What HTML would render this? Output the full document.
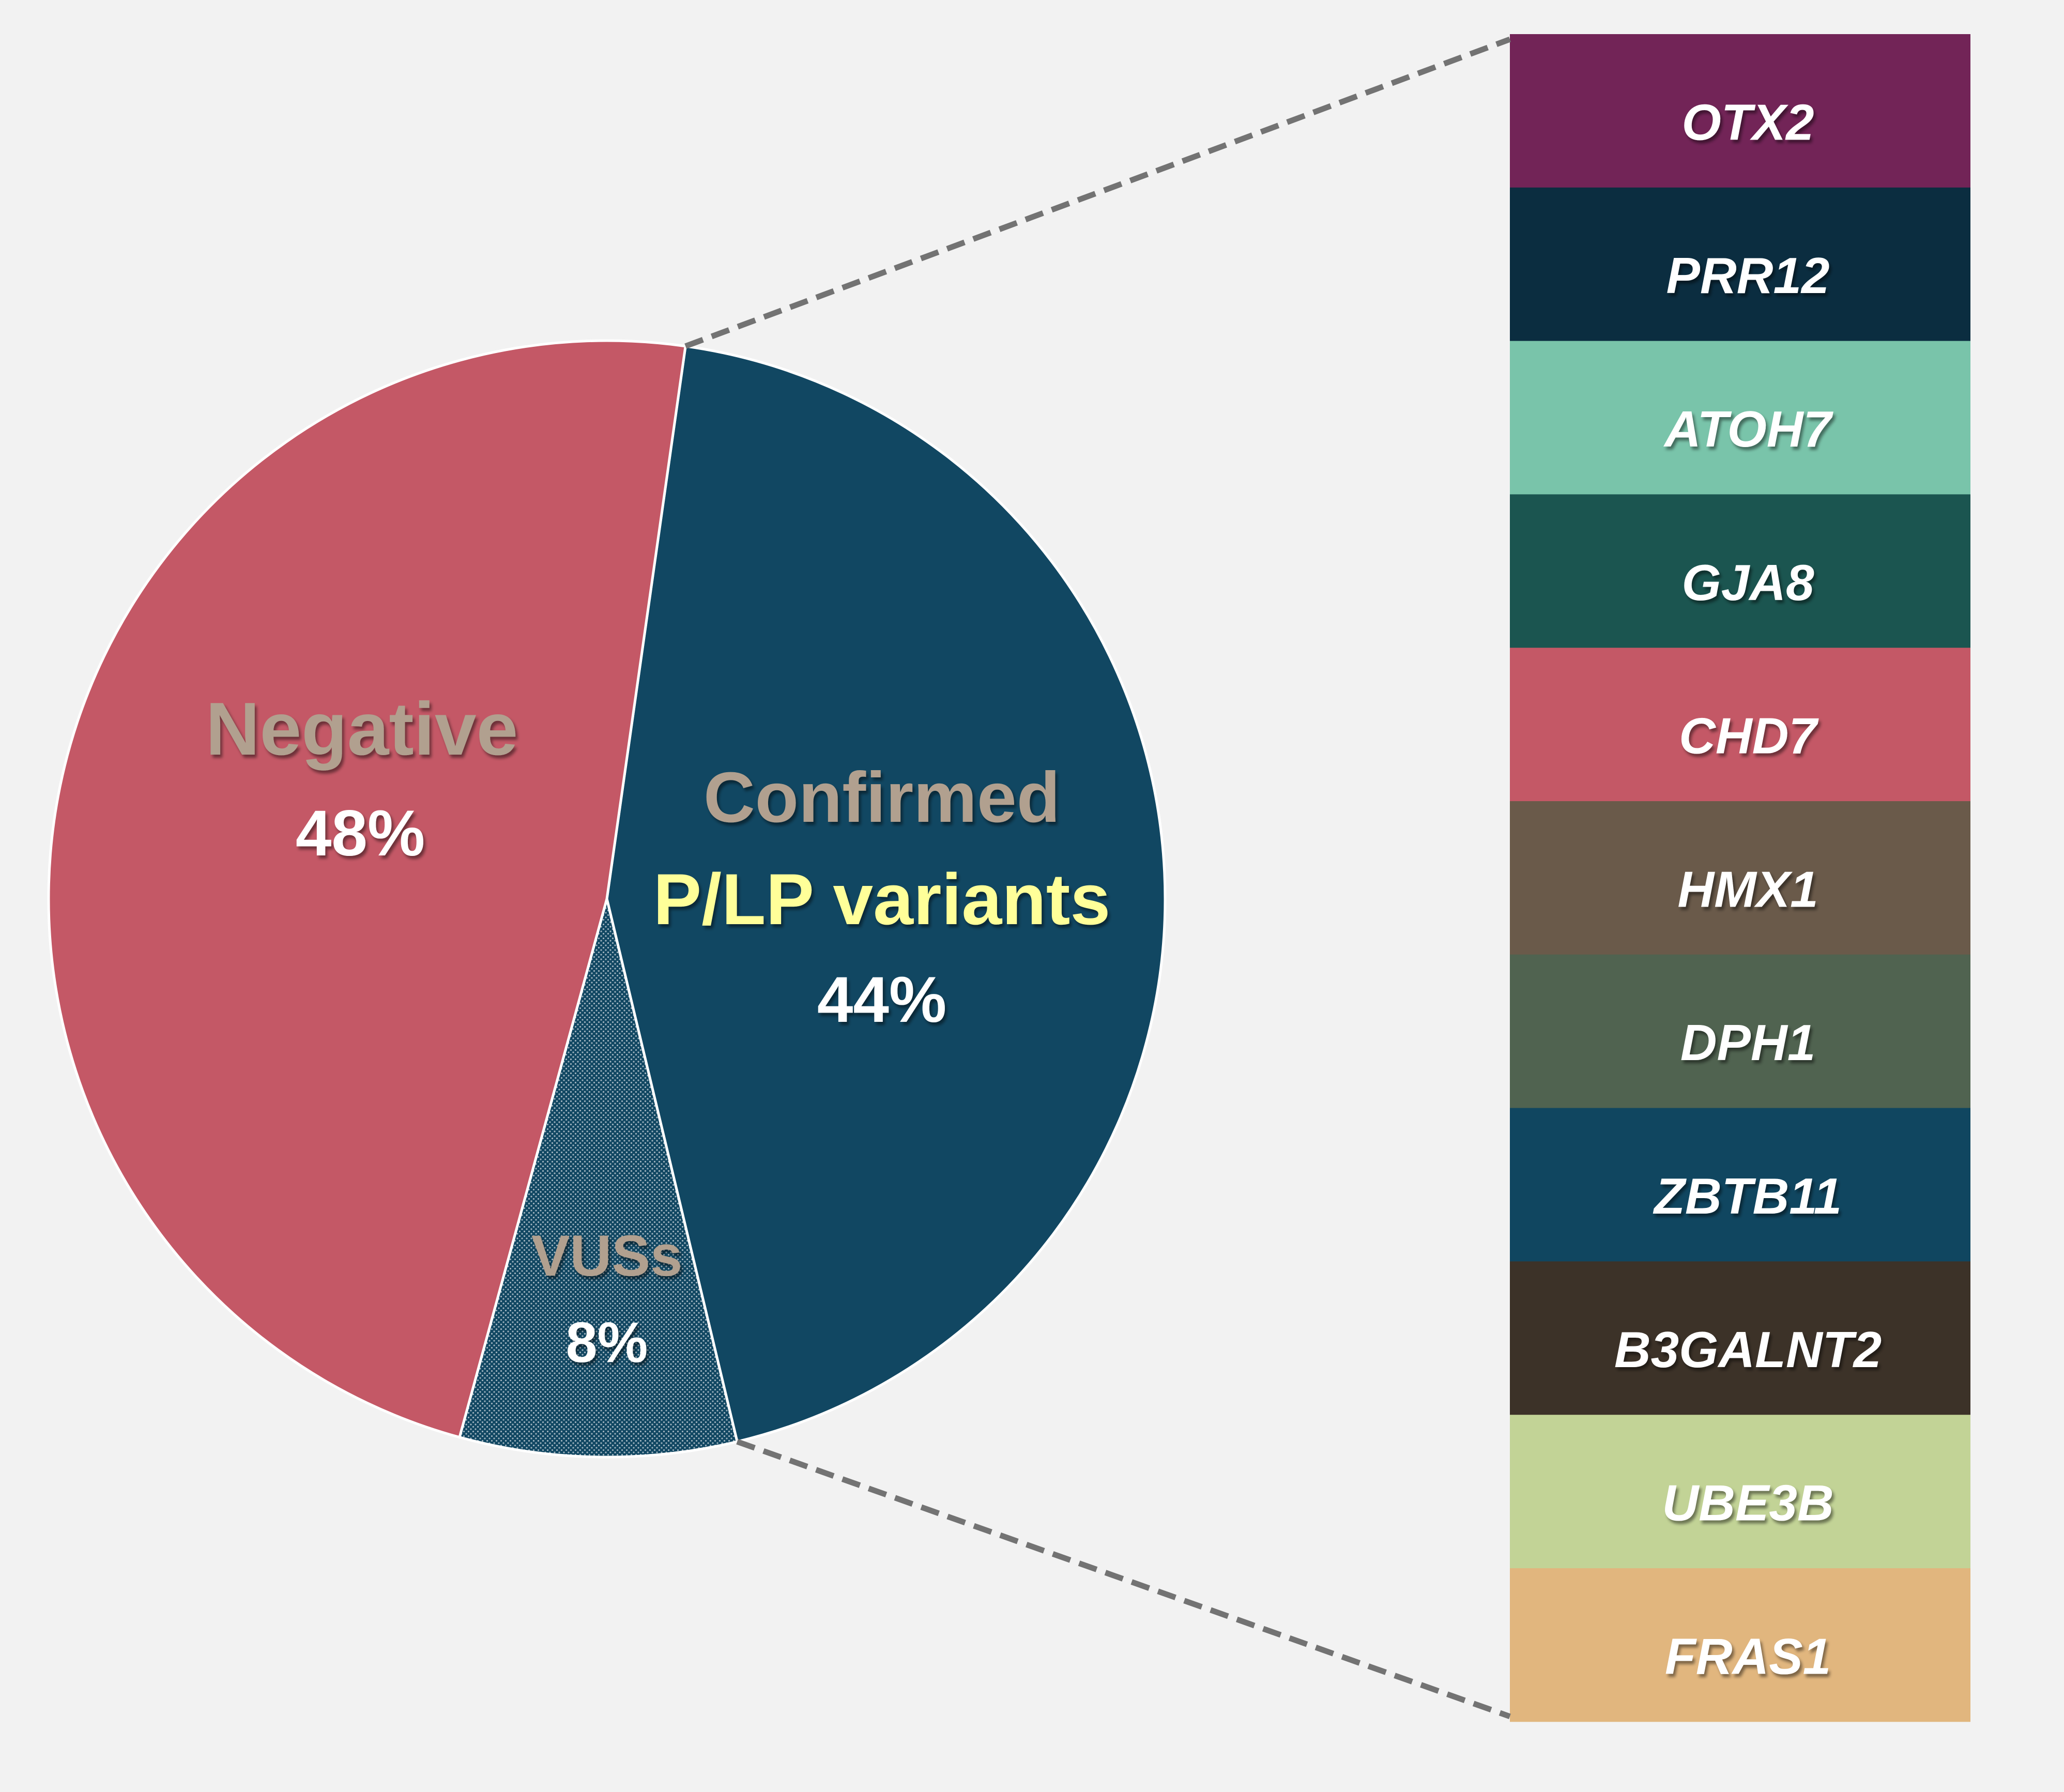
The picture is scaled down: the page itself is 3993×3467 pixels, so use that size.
<!DOCTYPE html>
<html><head><meta charset="utf-8">
<style>
html,body{margin:0;padding:0;background:#f2f2f2;}
svg{display:block;}
</style></head>
<body>
<svg id="chart" width="3993" height="3467" viewBox="0 0 3993 3467" xmlns="http://www.w3.org/2000/svg">
<defs>
<pattern id="dots" width="9" height="9" patternUnits="userSpaceOnUse">
<rect width="9" height="9" fill="#114762"/>
<circle cx="2" cy="2" r="1.6" fill="#9fb3bf"/>
<circle cx="6.5" cy="6.5" r="1.6" fill="#9fb3bf"/>
</pattern>
<filter id="sh" x="-10%" y="-10%" width="130%" height="140%">
<feDropShadow dx="4" dy="6" stdDeviation="3" flood-color="#000" flood-opacity="0.45"/>
</filter>
</defs>
<rect width="3993" height="3467" fill="#f2f2f2"/>
<g id="pie"></g>
<g id="bars"></g>
<g id="connectors"></g>
<g id="labels"></g>
</svg>
<script>
const sliceNames = ["Confirmed P/LP variants", "VUSs", "Negative"];
const sliceValues = [44, 8, 48];
const sliceColors = ["#114762", "url(#dots)", "#c45866"];
const genes = ["OTX2","PRR12","ATOH7","GJA8","CHD7","HMX1","DPH1","ZBTB11","B3GALNT2","UBE3B","FRAS1"];
const geneColors = ["#722457","#0b2d40","#79c4aa","#1b5550","#c45866","#6a5a4a","#506350","#104660","#3c3228","#c2d396","#e1b67e"];

const NS = "http://www.w3.org/2000/svg";
const cx = 1174, cy = 1739, r = 1080, startDeg = 8.1;
const total = sliceValues.reduce((a,b)=>a+b,0);
function pt(deg, rad){ const a = deg*Math.PI/180; return [cx + rad*Math.sin(a), cy - rad*Math.cos(a)]; }
function mk(tag, attrs, parent){ const e = document.createElementNS(NS, tag); for (const k in attrs) e.setAttribute(k, attrs[k]); parent.appendChild(e); return e; }

const pie = document.getElementById('pie');
let ang = startDeg;
const bounds = [];
sliceValues.forEach((v,i)=>{
  const a0 = ang, a1 = ang + v/total*360;
  const p0 = pt(a0, r), p1 = pt(a1, r);
  const large = (a1-a0) > 180 ? 1 : 0;
  const p = mk('path', {d:`M${cx},${cy} L${p0[0]},${p0[1]} A${r},${r} 0 ${large} 1 ${p1[0]},${p1[1]} Z`, fill: sliceColors[i], stroke:'#ffffff', 'stroke-width':5}, pie);
  
  
  bounds.push([a0,a1]);
  ang = a1;
});

const bx = 2921, bw = 891, by = 66, bh = 296.8;
const bars = document.getElementById('bars');
genes.forEach((g,i)=>{
  const y = by + i*bh;
  const rc = mk('rect', {x:bx, y:y, width:bw, height:bh+0.5, fill:geneColors[i]}, bars);
  
  
  const t = mk('text', {x:bx+bw/2+15, y:y+bh/2+56, 'text-anchor':'middle', fill:'#ffffff', 'font-family':'Liberation Sans, sans-serif', 'font-weight':'bold', 'font-style':'italic', 'font-size':98, filter:'url(#sh)'}, bars);
  t.textContent = g;
  
  
});

const conn = document.getElementById('connectors');
const c0 = pt(bounds[0][0], r), c1 = pt(bounds[0][1], r);
const l1 = mk('line', {x1:c0[0], y1:c0[1], x2:bx, y2:by+10, stroke:'#737373', 'stroke-width':11, 'stroke-dasharray':'36 18'}, conn);


const l2 = mk('line', {x1:c1[0], y1:c1[1], x2:bx, y2:by+genes.length*bh-10, stroke:'#737373', 'stroke-width':11, 'stroke-dasharray':'36 18'}, conn);



const labels = document.getElementById('labels');
function lbl(x,y,txt,color,size,name){
  const t = mk('text', {x:x, y:y, 'text-anchor':'middle', fill:color, 'font-family':'Liberation Sans, sans-serif', 'font-weight':'bold', 'font-size':size, filter:'url(#sh)'}, labels);
  t.textContent = txt;
  
  
}
lbl(700, 1460, 'Negative', '#b1a08f', 145, 'negative-label');
lbl(697, 1655, sliceValues[2]+'%', '#ffffff', 125, 'negative-percent');
lbl(1706, 1590, 'Confirmed', '#b1a08f', 138, 'confirmed-label');
lbl(1706, 1788, 'P/LP variants', '#ffff99', 140, 'plp-variants-label');
lbl(1706, 1977, sliceValues[0]+'%', '#ffffff', 125, 'confirmed-percent');
lbl(1174, 2468, 'VUSs', '#b1a08f', 112, 'vus-label');
lbl(1174, 2635, sliceValues[1]+'%', '#ffffff', 110, 'vus-percent');
</script>
</body></html>
